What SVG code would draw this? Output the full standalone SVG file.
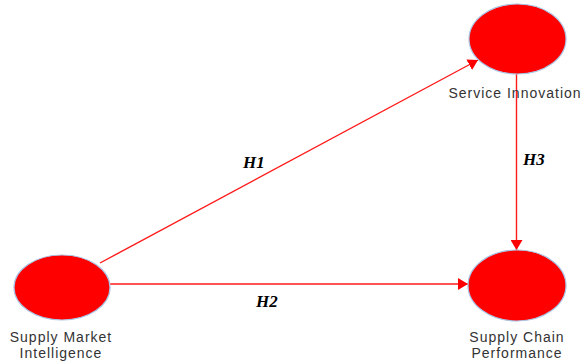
<svg xmlns="http://www.w3.org/2000/svg" width="583" height="364" viewBox="0 0 583 364">
<style>
.node{fill:#ff0000;stroke:#a9c4e4;stroke-width:1.2}
.lbl{font-family:"Liberation Sans",Arial,sans-serif;font-size:14px;fill:#333;text-anchor:middle;letter-spacing:1px}
.h{font-family:"Liberation Serif",serif;font-size:17px;font-style:italic;font-weight:bold;fill:#000}
.edge{stroke:#ff1a1a;stroke-width:1.4;fill:none;marker-end:url(#arr)}
</style>
<defs>
<marker id="arr" viewBox="0 0 10 12" refX="10" refY="6" markerWidth="10" markerHeight="12" markerUnits="userSpaceOnUse" orient="auto">
<path d="M0,0 L10,6 L0,12 Z" fill="#ff0000"/>
</marker>
</defs>
<rect width="583" height="364" fill="#fff"/>
<g id="connectors">
<line class="edge" x1="100" y1="263" x2="478" y2="60"/>
<line class="edge" x1="110" y1="284" x2="468" y2="284"/>
<line class="edge" x1="516.5" y1="74" x2="516.5" y2="250"/>
<text class="h" x="243" y="168">H1</text>
<text class="h" x="256" y="307">H2</text>
<text class="h" x="523" y="165">H3</text>
</g>
<g id="service-innovation">
<ellipse class="node" cx="517.5" cy="39" rx="48.5" ry="35"/>
<text class="lbl" x="515" y="98">Service Innovation</text>
</g>
<g id="supply-market-intelligence">
<ellipse class="node" cx="62" cy="287.5" rx="48" ry="32.5"/>
<text class="lbl" x="61" y="342">Supply Market</text>
<text class="lbl" x="61" y="358">Intelligence</text>
</g>
<g id="supply-chain-performance">
<ellipse class="node" cx="517" cy="285.5" rx="49" ry="35.5"/>
<text class="lbl" x="517" y="342">Supply Chain</text>
<text class="lbl" x="517" y="358">Performance</text>
</g>
</svg>
